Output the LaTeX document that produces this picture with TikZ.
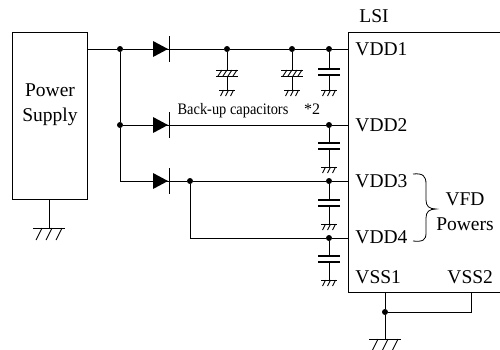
\documentclass[tikz,border=0pt]{standalone}
\usepackage{fontspec}
\setmainfont{Liberation Serif}
\begin{document}
\begin{tikzpicture}[x=1pt,y=-1pt,line width=0.9pt,
  dot/.style={circle,fill,inner sep=0pt,minimum size=6pt},
  lbl/.style={font=\fontsize{19.5}{25}\selectfont,inner sep=0pt},
  small/.style={font=\fontsize{16}{18}\selectfont,inner sep=0pt},
  plate/.style={line width=1.6pt},
  sgnd/.pic={\draw (-8,0)--(8,0); \foreach \q in {-5,0,5}{\draw (\q+1.5,0)--(\q-1.5,6);}},
  bgnd/.pic={\draw (-16,0)--(16,0); \foreach \q in {-10,0,10}{\draw (\q+3,0)--(\q-3,12);}},
  diode/.pic={\fill (-8,-8)--(-8,8)--(7,0)--cycle; \draw (8,-13)--(8,13);},
  hcap/.pic={\draw (-11,0)--(11,0) (-11,6)--(11,6);
             \foreach \q in {-7,-2,3,8}{\draw (\q-2,6)--(\q+2,0);}},
  ccap/.pic={\draw[plate] (-11,0)--(11,0) (-11,6)--(11,6);}
]
\useasboundingbox (0,0) rectangle (500,349);

% Power supply
\node[draw,minimum width=75pt,minimum height=167pt,inner sep=0pt] (ps) at (49.5,115.5) {};
\node[lbl,align=center] (pstxt) at (50,105) {Power\\Supply};
\coordinate (psgnd) at (49,228);
\draw (ps.south -| psgnd) -- (psgnd);
\pic at (psgnd) {bgnd};

% LSI box
\coordinate (lsiTL) at (348,32);
\coordinate (lsiBL) at (348,292);
\draw (501,32) -- (lsiTL) -- (lsiBL) -- (501,292);
\node[lbl,anchor=west] (lsi) at (359,16) {LSI};

% pins
\coordinate (vdd1) at (348,49);
\coordinate (vdd2) at (348,125);
\coordinate (vdd3) at (348,181);
\coordinate (vdd4) at (348,238);
\node[lbl,anchor=west] (t1) at (355,49) {VDD1};
\node[lbl,anchor=west] (t2) at (355,125) {VDD2};
\node[lbl,anchor=west] (t3) at (355,181) {VDD3};
\node[lbl,anchor=west] (t4) at (355,237) {VDD4};
\node[lbl,anchor=west] (s1) at (355,277) {VSS1};
\node[lbl,anchor=west] (s2) at (447,277) {VSS2};

% junctions
\coordinate (psout) at (87,49);
\node[dot] (j1) at (120,49) {};
\node[dot] (j2) at (120,125) {};
\coordinate (j3) at (120,181);
\node[dot] (c1) at (227,49) {};
\node[dot] (c2) at (292,49) {};
\node[dot] (c3) at (329,49) {};
\node[dot] (c4) at (329,125) {};
\node[dot] (j5) at (190,181) {};
\node[dot] (c5) at (329,181) {};
\coordinate (j6) at (190,238);
\node[dot] (c6) at (329,238) {};

% wires
\draw (psout) -- (j1) -- (c1) -- (c2) -- (c3) -- (vdd1);
\draw (j1) -- (j2) -- (j3);
\draw (j2) -- (c4) -- (vdd2);
\draw (j3) -- (j5) -- (c5) -- (vdd3);
\draw (j5) -- (j6) -- (c6) -- (vdd4);

% diodes
\pic at (161,49) {diode};
\pic at (161,125) {diode};
\pic at (161,181) {diode};

% back-up capacitors
\draw (c1) -- (227,70) (227,76) -- (227,90);
\pic at (227,70) {hcap};
\pic at (227,90) {sgnd};
\draw (c2) -- (292,70) (292,76) -- (292,90);
\pic at (292,70) {hcap};
\pic at (292,90) {sgnd};
\draw (c3) -- (329,69) (329,75) -- (329,90);
\pic at (329,69) {ccap};
\pic at (329,90) {sgnd};
\node[small,xscale=0.9] (bu) at (233,111) {Back-up capacitors};
\node[small] (n2) at (312,109) {*2};

% decoupling caps
\draw (c4) -- (329,143) (329,149) -- (329,167);
\pic at (329,143) {ccap};
\pic at (329,167) {sgnd};
\draw (c5) -- (329,200) (329,206) -- (329,224);
\pic at (329,200) {ccap};
\pic at (329,224) {sgnd};
\draw (c6) -- (329,256) (329,262) -- (329,280);
\pic at (329,256) {ccap};
\pic at (329,280) {sgnd};

% VSS
\coordinate (vss1) at (385,292);
\coordinate (vss2) at (471,292);
\node[dot] (jv) at (385,312) {};
\coordinate (vgnd) at (385,339);
\draw (vss1) -- (jv) -- (vgnd);
\draw (vss2) -- (vss2 |- jv) -- (jv);
\pic at (vgnd) {bgnd};

% brace
\draw[line width=0.8pt] (413,174) .. controls (423,173) and (426,176) .. (426,184) -- (426,200)
  .. controls (426,206) and (429,209) .. (436,209)
  .. controls (429,209) and (426,212) .. (426,218) -- (426,233)
  .. controls (426,240) and (423,242) .. (413,241);
\node[lbl,align=center] (vfd) at (465,212) {VFD\\Powers};
\end{tikzpicture}
\end{document}
